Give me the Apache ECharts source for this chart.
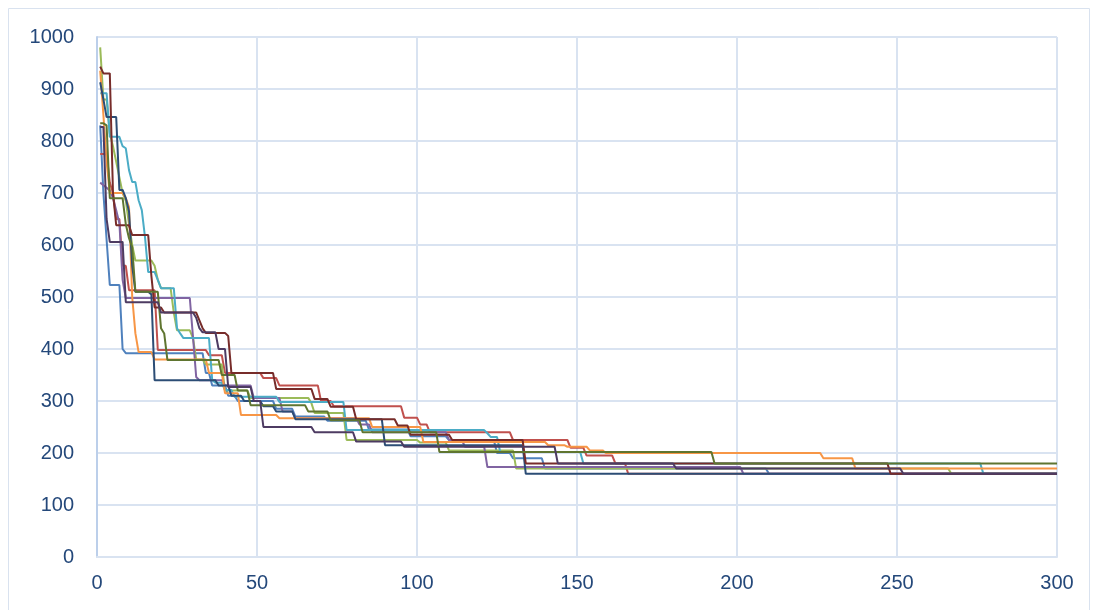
<!DOCTYPE html>
<html>
<head>
<meta charset="utf-8">
<script src="https://cdn.jsdelivr.net/npm/echarts@6/dist/echarts.min.js"></script>
<style>
html,body{margin:0;padding:0;background:#fff;}
#chart{width:1097px;height:610px;}
</style>
</head>
<body>
<div id="chart"></div>
<script>
// Tick values
const xTicks = [0, 50, 100, 150, 200, 250, 300];
const yTicks = [0, 100, 200, 300, 400, 500, 600, 700, 800, 900, 1000];

// Series: [iteration, best value] change points (value holds until the next change)
const seriesNames = ['Run 1','Run 2','Run 3','Run 4','Run 5','Run 6','Run 7','Run 8','Run 9','Run 10'];
const seriesColors = ['#4F81BD','#C0504D','#9BBB59','#8064A2','#4BACC6','#F79646','#2C4D75','#772C2A','#5F7530','#4D3B62'];

const run1 = [[1,830],[2,700],[3,610],[4,523],[8,400],[9,392],[34,354],[36,330],[41,310],[44,300],[56,285],[62,270],[72,262],[85,245],[98,232],[110,225],[125,200],[130,190],[140,170],[210,160],[300,160]];
const run2 = [[1,775],[4,720],[5,700],[6,650],[8,560],[10,513],[19,398],[35,388],[40,354],[52,344],[57,330],[70,300],[74,290],[96,268],[101,255],[104,240],[130,225],[148,210],[153,195],[162,180],[166,160],[300,160]];
const run3 = [[1,980],[2,880],[4,815],[5,790],[6,760],[7,730],[8,700],[9,685],[10,640],[11,600],[12,570],[18,560],[19,533],[20,517],[24,470],[25,436],[30,421],[31,380],[34,370],[40,320],[48,306],[67,296],[68,277],[78,225],[101,220],[110,205],[131,170],[267,160],[300,160]];
const run4 = [[1,720],[2,715],[3,710],[4,705],[5,690],[6,667],[7,642],[8,533],[9,498],[30,423],[31,346],[32,340],[40,330],[49,306],[58,280],[62,267],[82,255],[86,240],[110,225],[115,212],[122,173],[202,160],[300,160]];
const run5 = [[1,892],[4,808],[8,790],[9,786],[10,744],[11,721],[13,686],[14,667],[15,615],[16,548],[19,533],[20,517],[25,440],[26,430],[27,421],[36,340],[37,335],[40,321],[43,308],[57,298],[78,244],[122,238],[123,231],[126,202],[152,180],[277,160],[300,160]];
const run6 = [[1,935],[2,850],[3,760],[4,700],[9,690],[10,673],[11,500],[12,430],[13,394],[18,380],[35,354],[40,315],[45,273],[57,267],[86,250],[102,221],[141,215],[147,212],[154,205],[159,200],[227,190],[237,170],[300,170]];
const run7 = [[1,913],[2,880],[3,846],[7,706],[9,690],[10,665],[11,560],[12,510],[17,505],[18,340],[38,330],[42,310],[46,300],[52,290],[56,280],[62,265],[90,215],[134,160],[300,160]];
const run8 = [[1,943],[2,930],[5,700],[6,638],[11,619],[17,540],[18,480],[21,470],[32,455],[33,440],[34,431],[41,425],[42,354],[56,323],[68,304],[73,289],[81,265],[94,253],[98,235],[111,225],[134,180],[248,160],[300,160]];
const run9 = [[1,834],[3,830],[4,690],[9,640],[10,613],[11,596],[12,510],[20,440],[21,430],[22,379],[39,350],[44,320],[48,292],[66,280],[73,263],[83,240],[107,202],[193,180],[300,180]];
const run10 = [[1,827],[2,827],[3,650],[4,606],[9,490],[20,470],[31,460],[32,440],[33,432],[38,400],[41,327],[49,300],[52,250],[68,240],[81,222],[96,212],[144,180],[181,170],[252,160],[300,160]];

const allRuns = [run1, run2, run3, run4, run5, run6, run7, run8, run9, run10];

// The value at iteration x-1 still equals the previous value; the line joins
// consecutive iterations, so add that held point before each change.
function perIterationPath(d) {
  const out = [];
  for (let i = 0; i < d.length; i++) {
    if (i > 0) {
      const prev = d[i - 1];
      if (d[i][0] - 1 > prev[0]) out.push([d[i][0] - 1, prev[1]]);
    }
    out.push(d[i]);
  }
  return out;
}

const labelColor = '#24487A';
const gridColor = '#D9E3F1';

const chart = echarts.init(document.getElementById('chart'), null, {renderer: 'canvas'});
chart.setOption({
  animation: false,
  backgroundColor: '#ffffff',
  graphic: [{
    type: 'rect',
    shape: {x: 8.5, y: 8.5, width: 1081, height: 640},
    style: {fill: 'none', stroke: '#D9E2EF', lineWidth: 1},
    silent: true,
    z: -10
  }],
  grid: {left: 97, right: 40, top: 37, bottom: 53, containLabel: false},
  xAxis: {
    type: 'value',
    min: xTicks[0],
    max: xTicks[xTicks.length - 1],
    interval: xTicks[1] - xTicks[0],
    axisLine: {show: true, lineStyle: {color: gridColor, width: 2}},
    axisTick: {show: false},
    splitLine: {show: true, lineStyle: {color: gridColor, width: 2}},
    axisLabel: {color: labelColor, fontFamily: 'Liberation Sans', fontSize: 20, margin: 16,
      formatter: v => String(v)}
  },
  yAxis: {
    type: 'value',
    min: yTicks[0],
    max: yTicks[yTicks.length - 1],
    interval: yTicks[1] - yTicks[0],
    axisLine: {show: true, lineStyle: {color: '#BCCFEA', width: 2}},
    axisTick: {show: false},
    splitLine: {show: true, lineStyle: {color: gridColor, width: 2}},
    axisLabel: {color: labelColor, fontFamily: 'Liberation Sans', fontSize: 20, margin: 23,
      formatter: v => String(v)}
  },
  series: allRuns.map((d, i) => ({
    name: seriesNames[i],
    type: 'line',
    data: perIterationPath(d),
    showSymbol: false,
    symbol: 'none',
    lineStyle: {color: seriesColors[i], width: 2},
    itemStyle: {color: seriesColors[i]},
    clip: true
  }))
});
</script>
</body>
</html>
